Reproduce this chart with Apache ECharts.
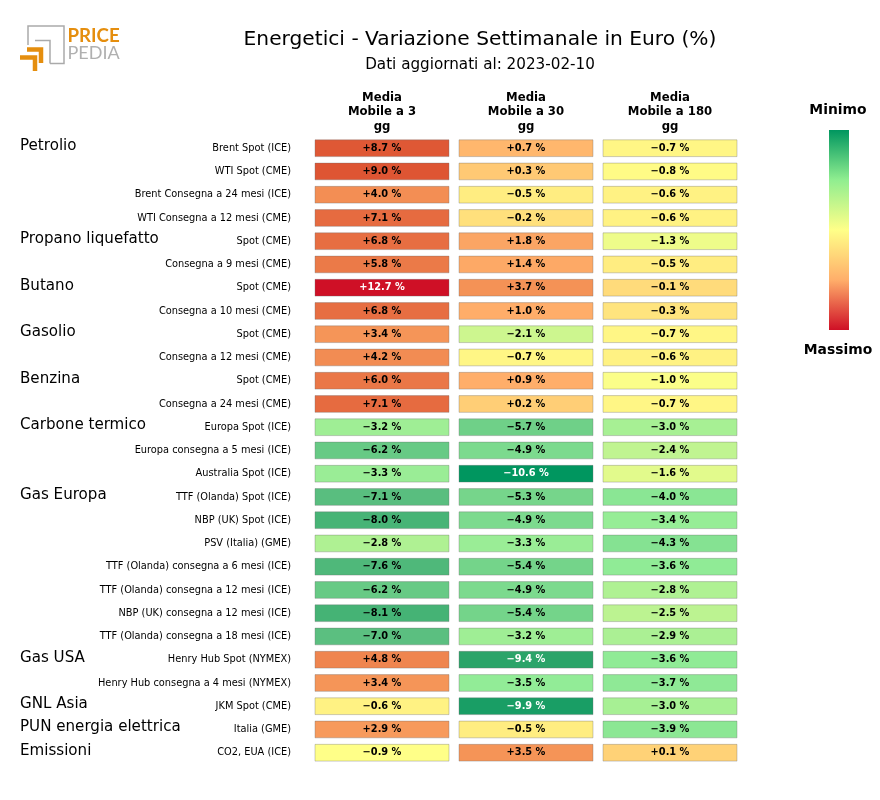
<!DOCTYPE html>
<html>
<head>
<meta charset="utf-8">
<style>
  html, body { margin: 0; padding: 0; background: #fff; }
  #chart { width: 880px; height: 800px; }
</style>
<script src="https://cdn.jsdelivr.net/npm/echarts@6/dist/echarts.min.js"></script>
</head>
<body>
<div id="chart"></div>
<script>
var FONT = '"DejaVu Sans", sans-serif';

var columns = ['Media\nMobile a 3\ngg', 'Media\nMobile a 30\ngg', 'Media\nMobile a 180\ngg'];

var rows = [
  'Brent Spot (ICE)', 'WTI Spot (CME)', 'Brent Consegna a 24 mesi (ICE)', 'WTI Consegna a 12 mesi (CME)',
  'Spot (CME)', 'Consegna a 9 mesi (CME)',
  'Spot (CME)', 'Consegna a 10 mesi (CME)',
  'Spot (CME)', 'Consegna a 12 mesi (CME)',
  'Spot (CME)', 'Consegna a 24 mesi (CME)',
  'Europa Spot (ICE)', 'Europa consegna a 5 mesi (ICE)', 'Australia Spot (ICE)',
  'TTF (Olanda) Spot (ICE)', 'NBP (UK) Spot (ICE)', 'PSV (Italia) (GME)', 'TTF (Olanda) consegna a 6 mesi (ICE)',
  'TTF (Olanda) consegna a 12 mesi (ICE)', 'NBP (UK) consegna a 12 mesi (ICE)', 'TTF (Olanda) consegna a 18 mesi (ICE)',
  'Henry Hub Spot (NYMEX)', 'Henry Hub consegna a 4 mesi (NYMEX)',
  'JKM Spot (CME)',
  'Italia (GME)',
  'CO2, EUA (ICE)'
];

// etichetta di gruppo sulla prima riga di ogni gruppo
var groups = [
  'Petrolio', '', '', '',
  'Propano liquefatto', '',
  'Butano', '',
  'Gasolio', '',
  'Benzina', '',
  'Carbone termico', '', '',
  'Gas Europa', '', '', '', '', '', '',
  'Gas USA', '',
  'GNL Asia',
  'PUN energia elettrica',
  'Emissioni'
];

var ma3 = [8.7, 9.0, 4.0, 7.1, 6.8, 5.8, 12.7, 6.8, 3.4, 4.2, 6.0, 7.1, -3.2, -6.2, -3.3, -7.1, -8.0, -2.8, -7.6, -6.2, -8.1, -7.0, 4.8, 3.4, -0.6, 2.9, -0.9];
var ma30 = [0.7, 0.3, -0.5, -0.2, 1.8, 1.4, 3.7, 1.0, -2.1, -0.7, 0.9, 0.2, -5.7, -4.9, -10.6, -5.3, -4.9, -3.3, -5.4, -4.9, -5.4, -3.2, -9.4, -3.5, -9.9, -0.5, 3.5];
var ma180 = [-0.7, -0.8, -0.6, -0.6, -1.3, -0.5, -0.1, -0.3, -0.7, -0.6, -1.0, -0.7, -3.0, -2.4, -1.6, -4.0, -3.4, -4.3, -3.6, -2.8, -2.5, -2.9, -3.6, -3.7, -3.0, -3.9, 0.1];

// scala colori: valore -> colore, non lineare
var colorValues = [-10.6, -9.4, -7.1, -3.5, -0.9, 0.9, 3.4, 9.0, 12.7];
var colorList = ['#00965f', '#2ba469', '#59be7f', '#92ec97', '#ffff88', '#ffae6a', '#f59558', '#de5533', '#cf1026'];
var legendColors = ['#00965f', '#90ee90', '#ffff88', '#ffae6a', '#cf1026'];

function hexToRgb(c) {
  return [parseInt(c.substr(1, 2), 16), parseInt(c.substr(3, 2), 16), parseInt(c.substr(5, 2), 16)];
}

function valueColor(v) {
  var i = 0;
  while (i < colorValues.length - 2 && v > colorValues[i + 1]) i++;
  var t = (v - colorValues[i]) / (colorValues[i + 1] - colorValues[i]);
  var a = hexToRgb(colorList[i]), b = hexToRgb(colorList[i + 1]);
  return 'rgb(' + [0, 1, 2].map(function (k) { return Math.round(a[k] + (b[k] - a[k]) * t); }).join(',') + ')';
}

function formatValue(v) {
  return (v < 0 ? '\u2212' : '+') + Math.abs(v).toFixed(1) + ' %';
}

var cells = [];
[ma3, ma30, ma180].forEach(function (list, c) {
  list.forEach(function (v, r) { cells.push([c, r, v]); });
});

function renderCell(params, api) {
  var p = api.coord([api.value(0), api.value(1)]);
  var size = api.size([1, 1]);
  var v = api.value(2);
  var w = size[0] - 10, h = size[1] - 6.5;
  return {
    type: 'group',
    children: [{
      type: 'rect',
      shape: { x: p[0] - w / 2, y: p[1] - h / 2, width: w, height: h },
      style: { fill: valueColor(v), stroke: 'rgba(110,110,110,0.35)', lineWidth: 1 }
    }, {
      type: 'text',
      style: {
        x: p[0], y: p[1], text: formatValue(v), align: 'center', verticalAlign: 'middle',
        font: 'bold 9.8px ' + FONT,
        fill: Math.abs(v) >= 9.4 ? '#fff' : '#000'
      }
    }]
  };
}

var ORANGE = '#e58e0e', GREY = '#aaaaaa';

var myChart = echarts.init(document.getElementById('chart'));

var option = {
  animation: false,
  backgroundColor: '#fff',
  textStyle: { fontFamily: FONT },
  title: [
    { text: 'Energetici - Variazione Settimanale in Euro (%)', left: 475, top: 25, textAlign: 'center',
      textStyle: { fontSize: 20.2, fontWeight: 'normal', color: '#000', fontFamily: FONT } },
    { text: 'Dati aggiornati al: 2023-02-10', left: 475, top: 52.5, textAlign: 'center',
      textStyle: { fontSize: 15.2, fontWeight: 'normal', color: '#000', fontFamily: FONT } }
  ],
  grid: { left: 310, top: 136.6, width: 432, height: 627.75 },
  xAxis: {
    type: 'category', position: 'top', data: columns,
    axisLine: { show: false }, axisTick: { show: false }, splitLine: { show: false },
    axisLabel: { fontFamily: FONT, fontSize: 11.7, fontWeight: 'bold', color: '#000', lineHeight: 14.5, margin: 2.5, interval: 0 }
  },
  yAxis: [{
    type: 'category', inverse: true, data: rows,
    axisLine: { show: false }, axisTick: { show: false }, splitLine: { show: false },
    axisLabel: { fontFamily: FONT, fontSize: 9.8, color: '#000', margin: 19, interval: 0 }
  }, {
    type: 'category', inverse: true, position: 'left', data: groups,
    axisLine: { show: false }, axisTick: { show: false }, splitLine: { show: false },
    axisLabel: {
      margin: 290, interval: 0, align: 'left',
      // riga vuota sotto il nome per alzarlo sopra il centro della riga
      formatter: function (name) { return name ? '{g|' + name + '}\n{s|}' : ''; },
      rich: {
        g: { fontFamily: FONT, fontSize: 15.1, color: '#000', lineHeight: 18 },
        s: { fontSize: 4, lineHeight: 4 }
      }
    }
  }],
  series: [{
    type: 'custom',
    coordinateSystem: 'cartesian2d',
    encode: { x: 0, y: 1 },
    data: cells,
    renderItem: renderCell,
    silent: true
  }],
  graphic: [
    // logo
    { type: 'polyline', shape: { points: [[28, 45], [28, 26], [64, 26], [64, 63.5], [50, 63.5]] }, style: { stroke: GREY, fill: null, lineWidth: 1.5 } },
    { type: 'polyline', shape: { points: [[35, 40.5], [50, 40.5], [50, 63.5]] }, style: { stroke: GREY, fill: null, lineWidth: 1.5 } },
    { type: 'polyline', shape: { points: [[20, 57.5], [35, 57.5], [35, 71]] }, style: { stroke: ORANGE, fill: null, lineWidth: 4.5 } },
    { type: 'polyline', shape: { points: [[27, 49.5], [41, 49.5], [41, 63]] }, style: { stroke: ORANGE, fill: null, lineWidth: 4.5 } },
    { type: 'text', x: 67.5, y: 26, style: { text: 'PRICE', font: 'bold 18.7px Lato, ' + FONT, fill: ORANGE } },
    { type: 'text', x: 67.5, y: 44, style: { text: 'PEDIA', font: '18px Lato, ' + FONT, fill: '#b0b0b0' } },
    // legenda colori
    { type: 'text', x: 838, y: 110, style: { text: 'Minimo', align: 'center', verticalAlign: 'middle', font: 'bold 13.9px ' + FONT, fill: '#000' } },
    { type: 'rect', shape: { x: 829, y: 130, width: 20, height: 200 },
      style: { fill: new echarts.graphic.LinearGradient(0, 0, 0, 1, legendColors.map(function (c, i) {
        return { offset: i / (legendColors.length - 1), color: c };
      })) } },
    { type: 'text', x: 838, y: 350, style: { text: 'Massimo', align: 'center', verticalAlign: 'middle', font: 'bold 13.9px ' + FONT, fill: '#000' } }
  ]
};

myChart.setOption(option);
</script>
</body>
</html>
